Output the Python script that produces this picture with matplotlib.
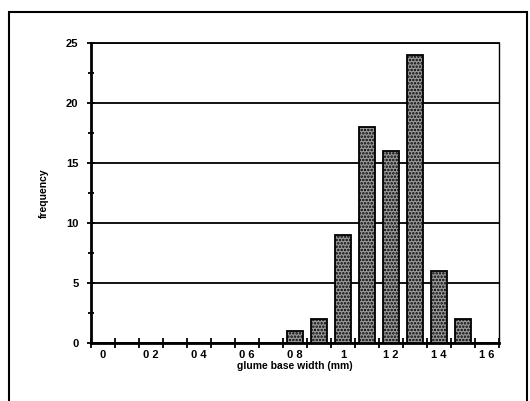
import numpy as np
import matplotlib.pyplot as plt
from matplotlib.patches import Rectangle

# glume base width classes (mm) and frequencies
widths = [0.0, 0.1, 0.2, 0.3, 0.4, 0.5, 0.6, 0.7, 0.8,
          0.9, 1.0, 1.1, 1.2, 1.3, 1.4, 1.5, 1.6]
freq = [0, 0, 0, 0, 0, 0, 0, 0, 1, 2, 9, 18, 16, 24, 6, 2, 0]
tick_text = ["0", "0 2", "0 4", "0 6", "0 8", "1", "1 2", "1 4", "1 6"]

plt.rcParams['font.family'] = ['Liberation Sans', 'DejaVu Sans']
plt.rcParams['hatch.linewidth'] = 1.2

fig = plt.figure(figsize=(5.3, 4.01), dpi=100)
fig.patches.append(Rectangle((0.017, -0.01), 0.977, 0.98, transform=fig.transFigure,
                             fill=False, lw=1.5, ec='black'))
ax = fig.add_axes([0.1717, 0.1446, 0.7698, 0.7481])

x = np.arange(len(widths)) + 0.5
ax.bar(x, freq, width=0.66, color='#9a9a9a', edgecolor='black', hatch='.....',
       lw=1.3, zorder=3)

ax.set_xlim(0, len(widths))
ax.set_ylim(0, 25)
ax.set_yticks(range(0, 26, 5))
ax.set_yticks(np.arange(2.5, 25, 5), minor=True)
ax.set_xticks(x[::2])
ax.set_xticklabels(tick_text, fontweight='bold', fontsize=8)
ax.set_xticks(np.arange(0, len(widths) + 1), minor=True)
for lab in ax.get_yticklabels():
    lab.set_fontweight('bold')
    lab.set_fontsize(8)
ax.yaxis.grid(True, color='black', lw=1.3, zorder=0)
ax.set_axisbelow(True)

ax.tick_params(axis='x', which='major', length=0, pad=5)
ax.tick_params(axis='x', which='minor', length=7, width=1.3, direction='inout')
ax.tick_params(axis='y', which='major', length=6, width=1.3, direction='inout', pad=6)
ax.tick_params(axis='y', which='minor', length=5, width=1.3, direction='inout')

ax.spines['left'].set_linewidth(2)
ax.spines['bottom'].set_linewidth(2)
ax.spines['right'].set_linewidth(1)
ax.spines['top'].set_linewidth(1.3)

ax.set_xlabel('glume base width (mm)', fontsize=7.5, fontweight='bold', labelpad=1)
ax.set_ylabel('frequency', fontsize=7.5, fontweight='bold', labelpad=12)

plt.savefig('out.png', dpi=100)
